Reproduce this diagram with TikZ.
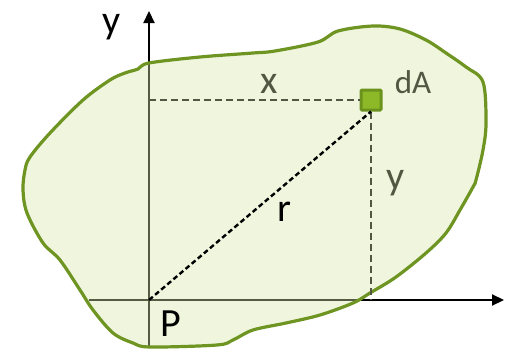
\documentclass[tikz,border=0pt]{standalone}
\usepackage{fontspec}
\setmainfont{Carlito}
\usetikzlibrary{positioning}
\usetikzlibrary{arrows.meta}
\definecolor{areafill}{RGB}{217,232,172}
\definecolor{areadraw}{RGB}{110,148,34}
\definecolor{dafill}{RGB}{141,185,40}
\definecolor{dadraw}{RGB}{108,146,30}
\definecolor{mgray}{RGB}{82,86,66}
\tikzset{axis/.style = {line width=2.2pt, -{Triangle[length=12pt,width=11pt]}}}
\tikzset{proj/.style = {line width=2.5pt, mgray, dash pattern=on 7pt off 4pt}}
\tikzset{radius line/.style = {line width=2.4pt, black, dash pattern=on 5pt off 3pt}}
\tikzset{lbl/.style = {inner sep=0pt, font=\fontsize{40}{44}\selectfont}}
\tikzset{elem/.style = {draw=dadraw, fill=dafill, line width=3pt, minimum size=20pt,
                        inner sep=0pt, rounded corners=1pt}}
\tikzset{region/.style = {smooth cycle, tension=0.55}}

\begin{document}
\begin{tikzpicture}[x=1pt,y=-1pt]
      \useasboundingbox (0,0) rectangle (506,351);
      \coordinate (P) at (149,300);
      \coordinate (xstart) at (89,300);
      \coordinate (xend) at (504,300);
      \coordinate (ystart) at (149,346);
      \coordinate (yend) at (149,11);
      \draw[axis] (xstart) -- (xend);
      \draw[axis] (ystart) -- (yend);
      \filldraw[fill=areafill, fill opacity=0.4, draw=areadraw, draw opacity=1, line width=3.2pt]
        plot[region] coordinates {
          (149,63) (200,57) (253,53) (275,51) (318,42) (338,31) (373,26)
          (400,29) (426,40) (446,53) (466,67) (483,82) (486,123) (483,150)
          (476,180) (473,187) (460,210) (446,233) (426,253) (396,277)
          (370,293) (353,303) (320,315) (286,323) (253,330) (233,340)
          (217,345) (150,347) (133,343) (113,333) (93,310) (80,290)
          (60,260) (43,243) (27,213) (23,190) (25,170) (30,157) (50,133)
          (83,100) (110,80) (125,73) (138,69)};
      \node[elem] (dA) at (371,100) {};
      \coordinate (yfoot) at (149,100);
      \coordinate (xfoot) at (371,300);
      \draw[proj] (yfoot) -- (dA.west);
      \draw[proj] (dA.south) -- (xfoot);
      \draw[radius line] (P) -- (dA.south);
      \node[lbl] (ylabel) at (112,27) {y};
      \node[lbl, mgray] (xdist) at (269,84) {x};
      \node[lbl, mgray, font=\fontsize{33}{36}\selectfont] (dAlabel) at (413,82) {dA};
      \node[lbl, mgray] (ydist) at (396,183) {y};
      \node[lbl] (rlabel) at (284,212) {r};
      \node[lbl] (Plabel) at (171,324) {P};
    \end{tikzpicture}
\end{document}
